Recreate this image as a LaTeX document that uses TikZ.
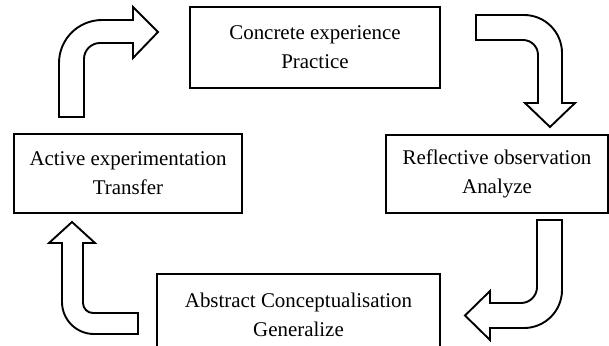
\documentclass[tikz,border=0pt]{standalone}
\usepackage{fontspec}
\setmainfont{Liberation Serif}
\begin{document}
\begin{tikzpicture}[x=1bp,y=1bp,
  stagebox/.style={draw=black,line width=2.6bp,inner sep=0pt,align=center,
    font=\fontsize{21}{29}\selectfont,text=black},
  blockarrow/.style={draw=black,fill=white,line width=1.9bp,line join=miter}]
\clip (0,0) rectangle (609,345);
\fill[white] (0,0) rectangle (609,345);
% stages
\node[stagebox,minimum width=250bp,minimum height=81bp] (ce) at (315,297.5) {Concrete experience\\Practice};
\node[stagebox,minimum width=222bp,minimum height=78bp] (ro) at (497,171) {Reflective observation\\Analyze};
\node[stagebox,minimum width=228bp,minimum height=79bp] (ae) at (128,171.5) {Active experimentation\\Transfer};
\node[stagebox,minimum width=283bp,minimum height=81bp,text depth=0pt] (ac) at (298.5,30.5) {Abstract Conceptualisation\\Generalize};
% block arrows
% top-left: from Active experimentation up and right to Concrete experience
\draw[blockarrow] (59,228) -- (59,282) arc[start angle=180,end angle=90,radius=43]
  -- (133,325) -- (133,338) -- (158,313) -- (133,287) -- (133,302)
  -- (100,302) arc[start angle=90,end angle=180,radius=16] -- (84,228) -- cycle;
% top-right: from Concrete experience right and down to Reflective observation
\draw[blockarrow] (476,330) -- (524,330) arc[start angle=90,end angle=0,radius=38]
  -- (562,242) -- (575,242) -- (550,218) -- (525,242) -- (538,242)
  -- (538,290) arc[start angle=0,end angle=90,radius=15] -- (476,305) -- cycle;
% bottom-right: from Reflective observation down and left to Abstract Conceptualisation
\draw[blockarrow] (537,125) -- (562,125) -- (562,55) arc[start angle=0,end angle=-90,radius=38]
  -- (490,17) -- (490,5) -- (465,29.5) -- (490,54) -- (490,42)
  -- (521,42) arc[start angle=-90,end angle=0,radius=16] -- cycle;
% bottom-left: from Abstract Conceptualisation left and up to Active experimentation
\draw[blockarrow] (138,32) -- (93,32) arc[start angle=-90,end angle=-180,radius=10]
  -- (83,102) -- (95,102) -- (72,123) -- (49,102) -- (62,102)
  -- (62,43) arc[start angle=180,end angle=270,radius=32] -- (138,11) -- cycle;
\end{tikzpicture}
\end{document}
